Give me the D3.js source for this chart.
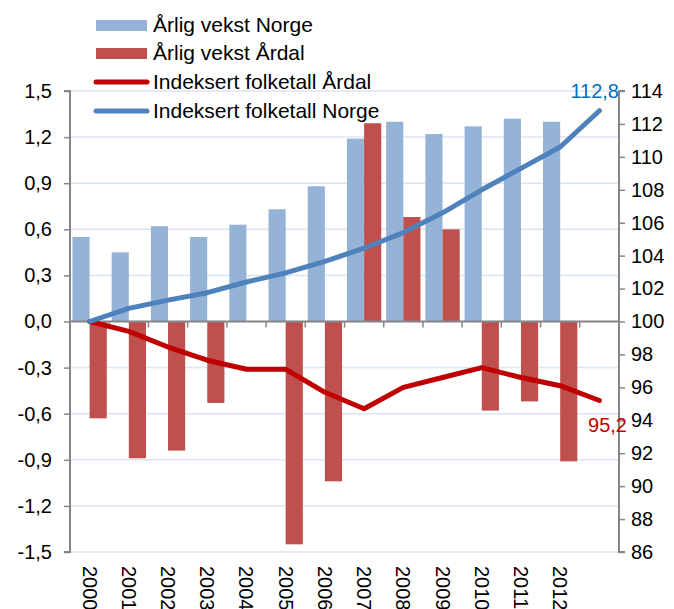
<!DOCTYPE html>
<html>
<head>
  <meta charset="utf-8">
  <script src="https://d3js.org/d3.v7.min.js"></script>
  <style>
    body { margin: 0; background: #fff; font-family: "Liberation Sans", Arial, sans-serif; }
    .tick-label { font-size: 20px; fill: #000; }
    .legend-label { font-size: 21px; fill: #000; }
  </style>
</head>
<body>
  <div id="chart"></div>
  <script>
    // data
    const years = ["2000","2001","2002","2003","2004","2005","2006","2007","2008","2009","2010","2011","2012","2013"];
    const yearLabels = ["2000","2001","2002","2003","2004","2005","2006","2007","2008","2009","2010","2011","2012",""];
    const vekstNorge = [0.55, 0.45, 0.62, 0.55, 0.63, 0.73, 0.88, 1.19, 1.30, 1.22, 1.27, 1.32, 1.30, null];
    const vekstArdal = [-0.63, -0.89, -0.84, -0.53, 0, -1.45, -1.04, 1.29, 0.68, 0.60, -0.58, -0.52, -0.91, null];
    const indeksArdal = [100, 99.4, 98.45, 97.65, 97.1, 97.1, 95.7, 94.7, 96.0, 96.6, 97.2, 96.6, 96.1, 95.2];
    const indeksNorge = [100, 100.8, 101.3, 101.75, 102.4, 102.95, 103.65, 104.45, 105.4, 106.6, 108.0, 109.3, 110.6, 112.8];
    const leftTicks = [-1.5, -1.2, -0.9, -0.6, -0.3, 0, 0.3, 0.6, 0.9, 1.2, 1.5];
    const rightTicks = [86, 88, 90, 92, 94, 96, 98, 100, 102, 104, 106, 108, 110, 112, 114];
    const seriesNames = ["Årlig vekst Norge", "Årlig vekst Årdal", "Indeksert folketall Årdal", "Indeksert folketall Norge"];

    const colNorgeBar = "#95B3D7", colArdalBar = "#C0504D";
    const colArdalLine = "#C00000", colNorgeLine = "#4F81BD";

    const W = 674, H = 609;
    const plot = {left: 70, right: 619, top: 91, bottom: 552};

    const svg = d3.select("#chart").append("svg")
      .attr("width", W).attr("height", H);

    const x = d3.scaleBand().domain(years).range([plot.left, plot.right]).padding(0);
    const bw = x.bandwidth();
    const xSub = d3.scaleBand().domain(["n", "a"]).range([bw * 0.0625, bw * 0.9375]).padding(0);
    const yL = d3.scaleLinear().domain([-1.5, 1.5]).range([plot.bottom, plot.top]);
    const yR = d3.scaleLinear().domain([86, 114]).range([plot.bottom, plot.top]);

    // gridlines
    svg.append("g").selectAll("line").data(leftTicks).join("line")
      .attr("x1", plot.left).attr("x2", plot.right)
      .attr("y1", d => yL(d)).attr("y2", d => yL(d))
      .attr("stroke", "#DCE6F2").attr("stroke-width", 1.5);

    // bars
    const bars = svg.append("g");
    bars.selectAll(".bn").data(years.map((y, i) => ({y, v: vekstNorge[i]})).filter(d => d.v !== null && d.v !== 0))
      .join("rect")
        .attr("x", d => x(d.y) + xSub("n"))
        .attr("width", xSub.bandwidth())
        .attr("y", d => yL(Math.max(0, d.v)))
        .attr("height", d => Math.abs(yL(d.v) - yL(0)))
        .attr("fill", colNorgeBar);
    bars.selectAll(".ba").data(years.map((y, i) => ({y, v: vekstArdal[i]})).filter(d => d.v !== null && d.v !== 0))
      .join("rect")
        .attr("x", d => x(d.y) + xSub("a"))
        .attr("width", xSub.bandwidth())
        .attr("y", d => yL(Math.max(0, d.v)))
        .attr("height", d => Math.abs(yL(d.v) - yL(0)))
        .attr("fill", colArdalBar);

    // axes
    const axisCol = "#868686";
    const leftAxis = d3.axisLeft(yL).tickValues(leftTicks).tickSize(6).tickPadding(12)
      .tickFormat(d => d3.format(".1f")(d).replace(".", ",").replace("−", "-"));
    const gL = svg.append("g").attr("transform", `translate(${plot.left},0)`).call(leftAxis);
    gL.select(".domain").attr("stroke", axisCol).attr("stroke-width", 2).attr("d", `M-6,${plot.top}H0V${plot.bottom}H-6`);
    gL.selectAll(".tick line").attr("stroke", axisCol).attr("stroke-width", 1.5);
    gL.selectAll("text").attr("class", "tick-label").attr("font-family", null).attr("font-size", null);

    const rightAxis = d3.axisRight(yR).tickValues(rightTicks).tickSize(6).tickPadding(6);
    const gR = svg.append("g").attr("transform", `translate(${plot.right},0)`).call(rightAxis);
    gR.select(".domain").attr("stroke", axisCol).attr("stroke-width", 2).attr("d", `M6,${plot.top}H0V${plot.bottom}H6`);
    gR.selectAll(".tick line").attr("stroke", axisCol).attr("stroke-width", 1.5);
    gR.selectAll("text").attr("class", "tick-label").attr("font-family", null).attr("font-size", null);

    // category axis at zero
    const gX = svg.append("g");
    gX.append("line")
      .attr("x1", plot.left).attr("x2", plot.right)
      .attr("y1", yL(0)).attr("y2", yL(0))
      .attr("stroke", axisCol).attr("stroke-width", 2);
    gX.selectAll(".xt").data(years.slice(1)).join("line")
      .attr("x1", d => x(d)).attr("x2", d => x(d))
      .attr("y1", yL(0)).attr("y2", yL(0) + 6)
      .attr("stroke", axisCol).attr("stroke-width", 1.5);

    // year labels, rotated
    svg.append("g").selectAll("text").data(years).join("text")
      .attr("class", "tick-label")
      .attr("transform", (d, i) => `translate(${x(d) + bw / 2 - 7},${plot.bottom + 14}) rotate(90)`)
      .text((d, i) => yearLabels[i]);

    // lines
    const lineGen = d3.line().x((d, i) => x(years[i]) + bw / 2).y(d => yR(d));
    svg.append("path").datum(indeksArdal)
      .attr("d", lineGen).attr("fill", "none")
      .attr("stroke", colArdalLine).attr("stroke-width", 5)
      .attr("stroke-linejoin", "round").attr("stroke-linecap", "round");
    svg.append("path").datum(indeksNorge)
      .attr("d", lineGen).attr("fill", "none")
      .attr("stroke", colNorgeLine).attr("stroke-width", 5)
      .attr("stroke-linejoin", "round").attr("stroke-linecap", "round");

    // end labels
    const last = years.length - 1;
    svg.append("text")
      .attr("x", plot.right).attr("y", yR(indeksNorge[last]) - 13)
      .attr("text-anchor", "end").attr("font-size", 20).attr("fill", "#0070C0")
      .text(String(indeksNorge[last]).replace(".", ","));
    svg.append("text")
      .attr("x", plot.right + 8).attr("y", yR(indeksArdal[last]) + 31)
      .attr("text-anchor", "end").attr("font-size", 20).attr("fill", colArdalLine)
      .text(String(indeksArdal[last]).replace(".", ","));

    // legend
    const legend = svg.append("g");
    const legY = [25, 53, 82, 111];
    const legCols = [colNorgeBar, colArdalBar, colArdalLine, colNorgeLine];
    seriesNames.forEach((name, i) => {
      if (i < 2) {
        legend.append("rect").attr("x", 96).attr("y", legY[i] - 5).attr("width", 51).attr("height", 11).attr("fill", legCols[i]);
      } else {
        legend.append("line").attr("x1", 96).attr("x2", 147).attr("y1", legY[i]).attr("y2", legY[i])
          .attr("stroke", legCols[i]).attr("stroke-width", 5).attr("stroke-linecap", "round");
      }
      legend.append("text").attr("class", "legend-label")
        .attr("x", 153).attr("y", legY[i] + 7).text(name);
    });
  </script>
</body>
</html>
